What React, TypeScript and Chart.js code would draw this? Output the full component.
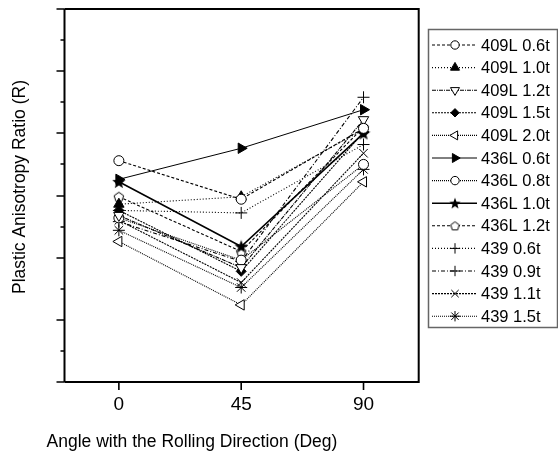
import React, { useEffect, useRef } from 'react';
import { Chart, registerables } from 'chart.js';
import { drawPoint } from 'chart.js/helpers';

Chart.register(...registerables);

// ---- data ----
const angles = [0, 45, 90];
const xTickValues = [0, 45, 90];
const seriesNames = [
  '409L 0.6t', '409L 1.0t', '409L 1.2t', '409L 1.5t', '409L 2.0t',
  '436L 0.6t', '436L 0.8t', '436L 1.0t', '436L 1.2t',
  '439 0.6t', '439 0.9t', '439 1.1t', '439 1.5t',
];
const r409L06 = [1.78, 1.47, 2.04];
const r409L10 = [1.43, 1.49, 2.03];
const r409L12 = [1.34, 0.92, 2.11];
const r409L15 = [1.38, 0.89, 2.01];
const r409L20 = [1.13, 0.62, 1.61];
const r436L06 = [1.63, 1.88, 2.19];
const r436L08 = [1.32, 0.98, 1.75];
const r436L10 = [1.61, 1.09, 2.0];
const r436L12 = [1.49, 1.05, 2.05];
const r439_06 = [1.38, 1.36, 1.91];
const r439_09 = [1.29, 0.97, 2.29];
const r439_11 = [1.3, 0.8, 1.84];
const r439_15 = [1.22, 0.76, 1.71];
const seriesValues = [
  r409L06, r409L10, r409L12, r409L15, r409L20,
  r436L06, r436L08, r436L10, r436L12,
  r439_06, r439_09, r439_11, r439_15,
];

const FONT = '"Liberation Sans", Arial, Helvetica, sans-serif';

function makeStar(size: number) {
  const c = document.createElement('canvas');
  c.width = size; c.height = size;
  const g = c.getContext('2d')!;
  const cx = size / 2, cy = size / 2 + 0.5, ro = size / 2, ri = ro * 0.42;
  g.beginPath();
  for (let i = 0; i < 10; i++) {
    const r = i % 2 === 0 ? ro : ri;
    const a = -Math.PI / 2 + (i * Math.PI) / 5;
    const px = cx + r * Math.cos(a), py = cy + r * Math.sin(a);
    if (i === 0) g.moveTo(px, py); else g.lineTo(px, py);
  }
  g.closePath();
  g.fillStyle = '#000';
  g.fill();
  return c;
}
function makePentagon(size: number) {
  const c = document.createElement('canvas');
  c.width = size; c.height = size;
  const g = c.getContext('2d')!;
  const cx = size / 2, cy = size / 2 + 0.5, r = size / 2 - 1;
  g.beginPath();
  for (let i = 0; i < 5; i++) {
    const a = -Math.PI / 2 + (i * 2 * Math.PI) / 5;
    const px = cx + r * Math.cos(a), py = cy + r * Math.sin(a);
    if (i === 0) g.moveTo(px, py); else g.lineTo(px, py);
  }
  g.closePath();
  g.fillStyle = '#fff';
  g.fill();
  g.strokeStyle = '#000';
  g.lineWidth = 1;
  g.stroke();
  return c;
}

type Sty = { ps: any; rot: number; fill: boolean; dash: number[]; lw: number; r: number; lps?: any };

export default function App() {
  const ref = useRef<HTMLCanvasElement>(null);
  useEffect(() => {
    const star = makeStar(14);
    const starL = makeStar(12);
    const pent = makePentagon(12);
    const pentL = makePentagon(11);
    const styles: Sty[] = [
      { ps: 'circle', rot: 0, fill: false, dash: [3, 2], lw: 1.1, r: 5 },
      { ps: 'triangle', rot: 0, fill: true, dash: [1, 2], lw: 1.1, r: 6 },
      { ps: 'triangle', rot: 180, fill: false, dash: [4, 1, 1, 1], lw: 1.1, r: 6 },
      { ps: 'rectRot', rot: 0, fill: true, dash: [2, 1], lw: 1.1, r: 5 },
      { ps: 'triangle', rot: -90, fill: false, dash: [1, 1], lw: 1.1, r: 6 },
      { ps: 'triangle', rot: 90, fill: true, dash: [], lw: 1, r: 6 },
      { ps: 'circle', rot: 0, fill: false, dash: [1, 1], lw: 1.1, r: 5 },
      { ps: star, rot: 0, fill: true, dash: [], lw: 1.6, r: 6, lps: starL },
      { ps: pent, rot: 0, fill: false, dash: [3, 2], lw: 1.1, r: 6, lps: pentL },
      { ps: 'cross', rot: 0, fill: false, dash: [1, 2], lw: 1.1, r: 6 },
      { ps: 'cross', rot: 0, fill: false, dash: [4, 2, 1, 2], lw: 1.1, r: 6 },
      { ps: 'crossRot', rot: 0, fill: false, dash: [2, 1], lw: 1.1, r: 6 },
      { ps: 'star', rot: 0, fill: false, dash: [1, 1], lw: 1.1, r: 6 },
    ];

    const datasets = seriesNames.map((name, i) => {
      const s = styles[i];
      return {
        label: name,
        data: angles.map((a, j) => ({ x: a, y: seriesValues[i][j] })),
        borderColor: '#000',
        borderWidth: s.lw,
        borderDash: s.dash,
        backgroundColor: s.fill ? '#000' : '#fff',
        pointStyle: s.ps,
        pointRotation: s.rot,
        pointRadius: s.r,
        pointBorderColor: '#000',
        pointBackgroundColor: s.fill ? '#000' : '#fff',
        pointBorderWidth: 1,
        tension: 0,
        fill: false,
        clip: false as any,
      };
    });

    const decor = {
      id: 'decor',
      afterDraw(chart: any) {
        const ctx = chart.ctx as CanvasRenderingContext2D;
        const { left: L, right: R, top: T, bottom: B } = chart.chartArea;
        const xs = chart.scales.x, ys = chart.scales.y;
        ctx.save();
        ctx.strokeStyle = '#000';
        ctx.setLineDash([]);
        // frame
        ctx.lineWidth = 2;
        ctx.beginPath();
        ctx.moveTo(L, T); ctx.lineTo(L, B);
        ctx.moveTo(R, T); ctx.lineTo(R, B);
        ctx.moveTo(L, T); ctx.lineTo(R + 1, T);
        ctx.moveTo(L, B); ctx.lineTo(R + 1, B);
        ctx.stroke();
        // y ticks (major + minor)
        ctx.lineWidth = 1.6;
        ctx.beginPath();
        for (let k = 0; k <= 12; k++) {
          const v = k * 0.25;
          const y = Math.round(ys.getPixelForValue(v));
          const len = k % 2 === 0 ? 8 : 4;
          ctx.moveTo(L - len, y); ctx.lineTo(L, y);
        }
        ctx.stroke();
        // x ticks
        ctx.beginPath();
        xTickValues.forEach((t) => {
          const x = xs.getPixelForValue(t);
          ctx.moveTo(x, B); ctx.lineTo(x, B + 8);
        });
        ctx.stroke();
        // x tick labels
        ctx.fillStyle = '#000';
        ctx.font = `19px ${FONT}`;
        ctx.textAlign = 'center';
        ctx.textBaseline = 'middle';
        xTickValues.forEach((t) => {
          ctx.fillText(String(t), xs.getPixelForValue(t), B + 23);
        });
        // axis titles
        ctx.font = `17.5px ${FONT}`;
        ctx.fillText('Angle with the Rolling Direction (Deg)', 192, 442);
        ctx.save();
        ctx.translate(20, 187);
        ctx.rotate(-Math.PI / 2);
        ctx.fillText('Plastic Anisotropy Ratio (R)', 0, 0);
        ctx.restore();
        // legend
        const lx0 = 428, ly0 = 29, lx1 = 557, ly1 = 327;
        ctx.lineWidth = 1.5;
        ctx.strokeStyle = '#666';
        ctx.strokeRect(lx0 + 0.5, ly0 + 0.5, lx1 - lx0, ly1 - ly0);
        ctx.textAlign = 'left';
        ctx.font = `16.5px ${FONT}`;
        seriesNames.forEach((name, i) => {
          const s = styles[i];
          const y = 45 + i * 22.6;
          ctx.strokeStyle = '#000';
          ctx.lineWidth = s.lw;
          ctx.setLineDash(s.dash);
          ctx.beginPath();
          ctx.moveTo(432, y); ctx.lineTo(477, y);
          ctx.stroke();
          ctx.setLineDash([]);
          ctx.fillStyle = s.fill ? '#000' : '#fff';
          ctx.strokeStyle = '#000';
          ctx.lineWidth = 1;
          drawPoint(ctx, { pointStyle: s.lps || s.ps, radius: s.r - 0.8, rotation: s.rot, borderWidth: 1 } as any, 455, y);
          ctx.fillStyle = '#000';
          ctx.fillText(name, 481, y + 1);
        });
        ctx.restore();
      },
    };

    const chart = new Chart(ref.current!, {
      type: 'line',
      data: { datasets },
      options: {
        animation: false,
        responsive: false,
        devicePixelRatio: 1,
        layout: { padding: { left: 64.5, top: 9, right: 139.3, bottom: 78 } },
        plugins: { legend: { display: false }, tooltip: { enabled: false } },
        scales: {
          x: { type: 'linear', min: -20, max: 110.3, display: false },
          y: { type: 'linear', min: 0, max: 3, display: false },
        },
      },
      plugins: [decor],
    });
    return () => chart.destroy();
  }, []);

  return (
    <div style={{ position: 'fixed', left: 0, top: 0, width: 558, height: 460, background: '#fff' }}>
      <canvas ref={ref} width={558} height={460} style={{ display: 'block' }} />
    </div>
  );
}
